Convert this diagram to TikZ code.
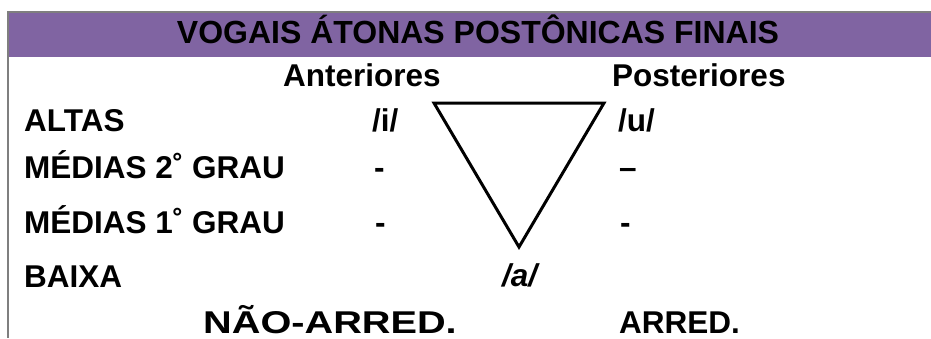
\documentclass[tikz,border=0pt]{standalone}
\usepackage{fontspec}
\setmainfont{Liberation Sans}
\definecolor{hdrpurple}{HTML}{8064A2}
\definecolor{bordergray}{HTML}{7F7F7F}
\begin{document}
\begin{tikzpicture}[x=1pt,y=-1pt,
  lbl/.style={inner sep=0pt,anchor=base west,font=\fontsize{31.5}{36}\selectfont\bfseries},
  hdr/.style={inner sep=0pt,anchor=base,font=\fontsize{32}{38}\selectfont\bfseries}]
\useasboundingbox (0,0) rectangle (931,338);
% header band and borders
\fill[hdrpurple] (8,12) rectangle (931,57);
\fill[bordergray] (7,10.5) rectangle (931,12.5);
\fill[bordergray] (7,10.5) rectangle (9,338);
\node[hdr] (title) at (478,43) {VOGAIS ÁTONAS POSTÔNICAS FINAIS};
% column heads
\node[lbl] (ant) at (283,86) {Anteriores};
\node[lbl] (post) at (612,86) {Posteriores};
% rows
\node[lbl] (altas) at (24,131) {ALTAS};
\node[lbl] (i) at (372,131) {/i/};
\node[lbl] (u) at (618,131) {/u/};
\node[lbl] (med2) at (24,178) {MÉDIAS 2˚ GRAU};
\node[lbl] (med2a) at (374,178) {-};
\node[lbl] (med2p) at (619,178) {–};
\node[lbl] (med1) at (24,233) {MÉDIAS 1˚ GRAU};
\node[lbl] (med1a) at (375,233) {-};
\node[lbl] (med1p) at (620,233) {-};
\node[lbl] (baixa) at (24,287) {BAIXA};
\node[lbl,font=\fontsize{31.5}{36}\selectfont\bfseries\itshape] (a) at (502,286) {/a/};
\node[lbl] (nao) at (203,333) {\scalebox{1.26}[1]{NÃO-ARRED.}};
\node[lbl] (arred) at (619,333) {ARRED.};
% vowel triangle
\coordinate (tl) at (434,103);
\coordinate (tr) at (604,103);
\coordinate (bt) at (519,247);
\draw[line width=3pt,line join=miter] (tl) -- (tr) -- (bt) -- cycle;
\end{tikzpicture}
\end{document}
